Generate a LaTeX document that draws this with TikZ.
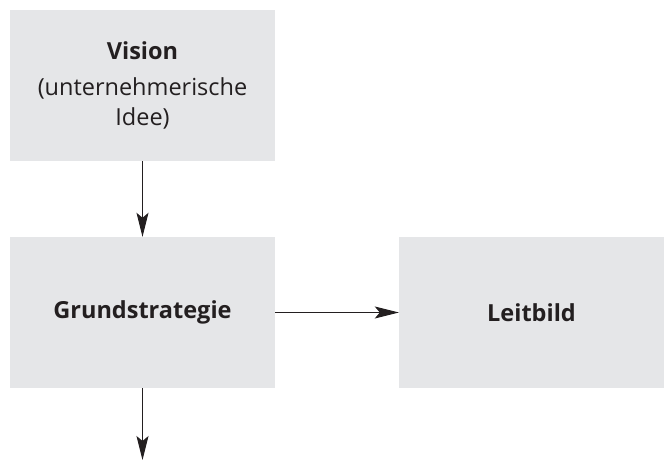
\documentclass[tikz,border=0pt]{standalone}
\usepackage{fontspec}
\setmainfont{Open Sans}
\usetikzlibrary{arrows.meta,positioning}
\definecolor{boxgray}{HTML}{E5E6E8}
\definecolor{ink}{HTML}{231F20}
\tikzset{
    box/.style={fill=boxgray, minimum width=265pt, minimum height=151pt,
        inner sep=0pt, align=center, text=ink,
        font=\fontsize{23.5}{30}\selectfont},
    pfeil/.style={draw=ink, line width=1pt,
        -{Stealth[length=24pt,width=12pt,inset=5pt]}},
}

\begin{document}
\begin{tikzpicture}[x=1pt,y=1pt]
\useasboundingbox (0,0) rectangle (664,461);
\node[box] (vision) at (142.5,375.5) {\textbf{Vision}\\[6pt](unternehmerische\\Idee)};
\node[box] (grund) at (142.5,148.5) {\textbf{Grundstrategie}};
\node[box] (leit) at (531.5,148.5) {\textbf{Leitbild}};
\coordinate (unten) at (142.5,1);
\draw[pfeil] (vision) -- (grund);
\draw[pfeil] (grund) -- (leit);
\draw[pfeil] (grund) -- (unten);
\end{tikzpicture}
\end{document}
